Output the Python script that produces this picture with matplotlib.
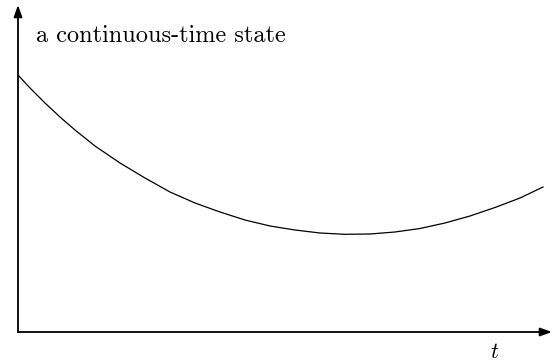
import matplotlib
matplotlib.use("Agg")
import matplotlib.pyplot as plt

plt.rcParams['mathtext.fontset'] = 'cm'

# curve (t, state) in arbitrary units
t_vals = [0, 12, 27, 42, 57, 77, 102, 127, 152, 177, 202, 227, 252, 277,
          302, 327, 352, 377, 402, 427, 452, 477, 502, 525]
state = [257, 244, 229, 215, 202, 186, 169, 154, 140, 129, 120, 112, 106, 102,
         99, 97.7, 98, 100, 103.5, 109, 116, 124.5, 134, 145]

label = "a continuous-time state"
xlabel = "$t$"

fig = plt.figure(figsize=(5.53, 3.62), dpi=100)
ax = fig.add_axes([18 / 553, 30 / 362, 534 / 553, 327 / 362])
ax.set_xlim(0, 534)
ax.set_ylim(0, 327)
ax.axis('off')

ax.plot(t_vals, state, color='black', linewidth=0.9)

# axes with arrow heads
arrow = dict(arrowstyle='-|>,head_length=0.7,head_width=0.25', color='black',
             linewidth=1.3, shrinkA=0, shrinkB=0)
ax.annotate('', xy=(1, 0), xytext=(0, 0), xycoords='axes fraction', arrowprops=arrow)
ax.annotate('', xy=(0, 1), xytext=(0, 0), xycoords='axes fraction', arrowprops=arrow)

ax.text(18 / 534, 1 - 31 / 327, label, transform=ax.transAxes, family='cmr10',
        fontsize=17.5, va='center', ha='left')
ax.text(477 / 534, -20 / 327, xlabel, transform=ax.transAxes, fontsize=16,
        va='center', ha='center')

fig.savefig('out.png', dpi=100)
